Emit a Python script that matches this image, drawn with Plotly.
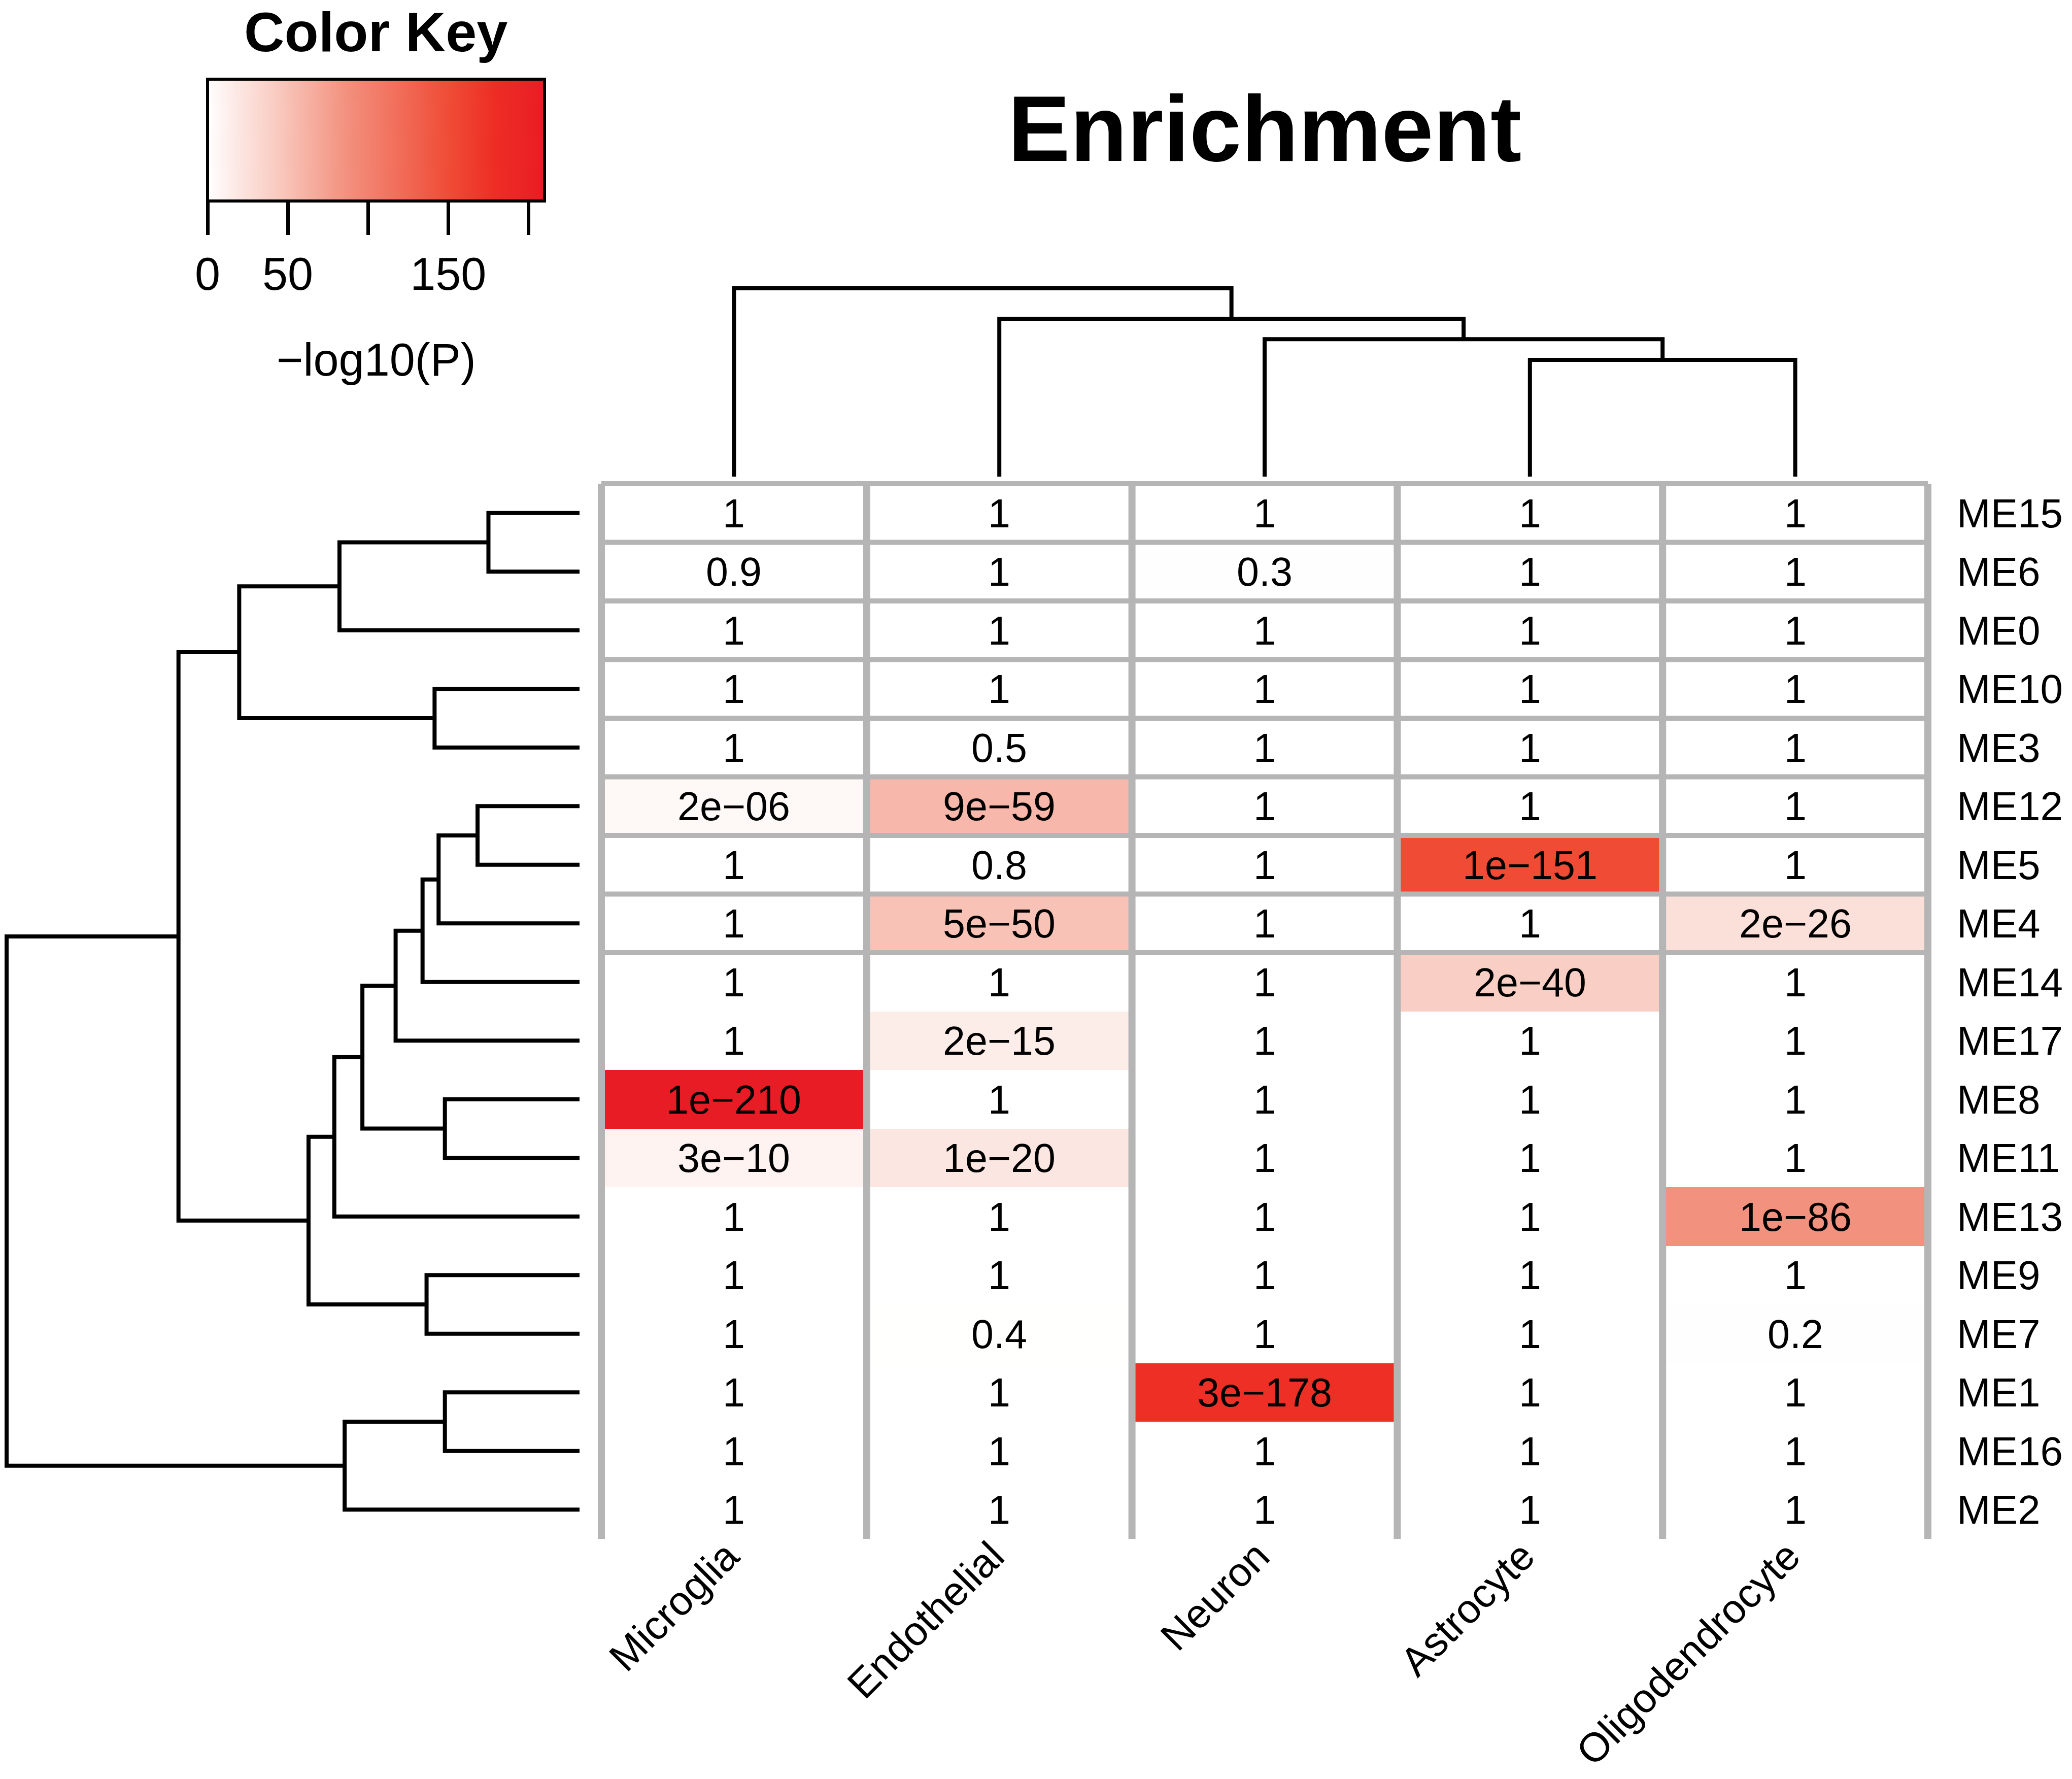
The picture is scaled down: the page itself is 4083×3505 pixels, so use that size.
import numpy as np
import plotly.graph_objects as go

# ---------------- data ----------------
cell_types = ["Microglia", "Endothelial", "Neuron", "Astrocyte", "Oligodendrocyte"]
modules = ["ME15", "ME6", "ME0", "ME10", "ME3", "ME12", "ME5", "ME4", "ME14",
           "ME17", "ME8", "ME11", "ME13", "ME9", "ME7", "ME1", "ME16", "ME2"]

# enrichment p-values (rows = modules, columns = cell types), as printed in cells
pvalues = [
    ["1",     "1",     "1",      "1",      "1"],      # ME15
    ["0.9",   "1",     "0.3",    "1",      "1"],      # ME6
    ["1",     "1",     "1",      "1",      "1"],      # ME0
    ["1",     "1",     "1",      "1",      "1"],      # ME10
    ["1",     "0.5",   "1",      "1",      "1"],      # ME3
    ["2e-06", "9e-59", "1",      "1",      "1"],      # ME12
    ["1",     "0.8",   "1",      "1e-151", "1"],      # ME5
    ["1",     "5e-50", "1",      "1",      "2e-26"],  # ME4
    ["1",     "1",     "1",      "2e-40",  "1"],      # ME14
    ["1",     "2e-15", "1",      "1",      "1"],      # ME17
    ["1e-210", "1",    "1",      "1",      "1"],      # ME8
    ["3e-10", "1e-20", "1",      "1",      "1"],      # ME11
    ["1",     "1",     "1",      "1",      "1e-86"],  # ME13
    ["1",     "1",     "1",      "1",      "1"],      # ME9
    ["1",     "0.4",   "1",      "1",      "0.2"],    # ME7
    ["1",     "1",     "3e-178", "1",      "1"],      # ME1
    ["1",     "1",     "1",      "1",      "1"],      # ME16
    ["1",     "1",     "1",      "1",      "1"],      # ME2
]

# column dendrogram merges: (child a, child b, height); leaves 0..4, new nodes 5..
col_merges = [(3, 4, 0.620), (2, 5, 0.730), (1, 6, 0.838), (0, 7, 1.000)]

# row dendrogram merges: leaves 0..17 (display order), new nodes 18..
row_merges = [
    (0, 1, 0.159), (18, 2, 0.419), (3, 4, 0.253), (19, 20, 0.594),
    (5, 6, 0.178), (22, 7, 0.246), (23, 8, 0.274), (24, 9, 0.321),
    (10, 11, 0.235), (25, 26, 0.379), (27, 12, 0.428), (13, 14, 0.267),
    (28, 29, 0.473), (21, 30, 0.700), (15, 16, 0.235), (32, 17, 0.410),
    (31, 33, 1.000),
]

key_tickvals = [0, 50, 100, 150, 200]
key_ticktext = ["0", "50", "", "150", ""]
zmax = 210

# ---------------- derived ----------------
z = [[max(0.0, -np.log10(float(p))) for p in row] for row in pvalues]
cell_text = [[p.replace("-", "\u2212") for p in row] for row in pvalues]

colorscale = [
    [0.00, "#FFFFFF"],
    [0.10, "#FCE5E0"],
    [0.20, "#F9CCC2"],
    [0.41, "#F3917F"],
    [0.72, "#EF4B35"],
    [0.85, "#EE2E25"],
    [1.00, "#E81C24"],
]


def dendro_segments(merges, n):
    pos = {i: float(i) for i in range(n)}
    hgt = {i: 0.0 for i in range(n)}
    P, H = [], []
    for k, (a, b, h) in enumerate(merges):
        P += [pos[a], pos[a], pos[b], pos[b], None]
        H += [hgt[a], h, h, hgt[b], None]
        pos[n + k] = (pos[a] + pos[b]) / 2.0
        hgt[n + k] = h
    return P, H


W, Hpx = 4083, 3505
FONT = "Liberation Sans, Arial, Helvetica, sans-serif"

# heatmap geometry (pixels)
grid_left, grid_right = 1185, 3799
grid_top, grid_bottom = 953, 3032
pad = 10
ncol, nrow = len(cell_types), len(modules)
colw = (grid_right - grid_left) / ncol
rowh = (grid_bottom - grid_top) / nrow
xpad_u = pad / colw
ypad_u = pad / rowh

x_dom = [(grid_left - pad) / W, (grid_right + pad) / W]
y_dom = [1 - (grid_bottom + pad) / Hpx, 1 - (grid_top - pad) / Hpx]
x_rng = [-0.5 - xpad_u, ncol - 0.5 + xpad_u]
y_rng = [nrow - 0.5 + ypad_u, -0.5 - ypad_u]

fig = go.Figure()

fig.add_trace(go.Heatmap(
    z=z, x=list(range(ncol)), y=list(range(nrow)),
    text=cell_text, texttemplate="%{text}",
    textfont=dict(size=79, color="black", family=FONT),
    colorscale=colorscale, zmin=0, zmax=zmax,
    hoverinfo="skip",
    colorbar=dict(
        orientation="h", x=741 / W, xanchor="center",
        y=1 - 156 / Hpx, yanchor="top",
        len=664, lenmode="pixels", thickness=240, thicknessmode="pixels",
        outlinewidth=6, outlinecolor="black",
        ticks="outside", ticklen=64, tickwidth=7, tickcolor="black",
        tickvals=key_tickvals, ticktext=key_ticktext,
        tickfont=dict(size=90, color="black", family=FONT),
        xpad=0, ypad=0,
    ),
))

# column dendrogram (top)
cp, ch = dendro_segments(col_merges, ncol)
fig.add_trace(go.Scatter(x=cp, y=ch, mode="lines", xaxis="x2", yaxis="y2",
                         line=dict(color="black", width=8), hoverinfo="skip",
                         showlegend=False))

# row dendrogram (left)
rp, rh = dendro_segments(row_merges, nrow)
fig.add_trace(go.Scatter(x=rh, y=rp, mode="lines", xaxis="x3", yaxis="y3",
                         line=dict(color="black", width=8), hoverinfo="skip",
                         showlegend=False))

# separators
shapes = []
for i in range(ncol + 1):
    shapes.append(dict(type="line", xref="x", yref="y", x0=i - 0.5, x1=i - 0.5,
                       y0=-0.5, y1=nrow - 0.5, line=dict(color="#B5B5B5", width=14),
                       layer="above"))
for j in range(9):
    shapes.append(dict(type="line", xref="x", yref="y", x0=-0.5, x1=ncol - 0.5,
                       y0=j - 0.5, y1=j - 0.5, line=dict(color="#B5B5B5", width=10),
                       layer="above"))

# top dendrogram axis geometry
top_leaf_px, top_root_px, top_dom_top_px = 939, 568, 540
top_R = (top_leaf_px - top_dom_top_px) / (top_leaf_px - top_root_px)
# left dendrogram axis geometry
left_leaf_px, left_root_px = 1142, 13
left_R = 1.0 / (1 - left_root_px / left_leaf_px)

axis_off = dict(showgrid=False, zeroline=False, showticklabels=False,
                showline=False, ticks="", automargin=False)

fig.update_layout(
    width=W, height=Hpx,
    margin=dict(l=0, r=0, t=0, b=0, pad=0, autoexpand=False),
    paper_bgcolor="white", plot_bgcolor="white",
    font=dict(family=FONT, color="black"),
    showlegend=False,
    shapes=shapes,
    xaxis=dict(domain=x_dom, range=x_rng, tickvals=list(range(ncol)),
               ticktext=cell_types, tickangle=-45, ticks="", showgrid=False,
               zeroline=False, showline=False, automargin=False,
               ticklabelstandoff=-40, ticklabelshift=-14,
               tickfont=dict(size=80, family=FONT, color="black")),
    yaxis=dict(domain=y_dom, range=y_rng, tickvals=list(range(nrow)),
               ticktext=modules, side="right", ticks="", showgrid=False,
               zeroline=False, showline=False, automargin=False,
               ticklabelstandoff=46,
               tickfont=dict(size=80, family=FONT, color="black")),
    xaxis2=dict(domain=x_dom, range=x_rng, anchor="y2", **axis_off),
    yaxis2=dict(domain=[1 - top_leaf_px / Hpx, 1 - top_dom_top_px / Hpx],
                range=[0, top_R], anchor="x2", **axis_off),
    xaxis3=dict(domain=[0, left_leaf_px / W], range=[left_R, 0], anchor="y3",
                **axis_off),
    yaxis3=dict(domain=y_dom, range=y_rng, anchor="x3", **axis_off),
    annotations=[
        dict(text="<b>Enrichment</b>", x=(grid_left + grid_right) / 2 / W,
             y=1 - 253 / Hpx, xref="paper", yref="paper", showarrow=False,
             xanchor="center", yanchor="middle",
             font=dict(size=184, family=FONT, color="black")),
        dict(text="<b>Color Key</b>", x=741 / W, y=1.0,
             xref="paper", yref="paper", showarrow=False,
             xanchor="center", yanchor="top", borderpad=0,
             font=dict(size=110, family=FONT, color="black")),
        dict(text="\u2212log10(P)", x=741 / W, y=1 - 709 / Hpx,
             xref="paper", yref="paper", showarrow=False,
             xanchor="center", yanchor="middle",
             font=dict(size=90, family=FONT, color="black")),
    ],
)

fig.write_html("out.html", config={"displayModeBar": False},
               post_script="document.body.style.margin='0';document.body.style.padding='0';")
